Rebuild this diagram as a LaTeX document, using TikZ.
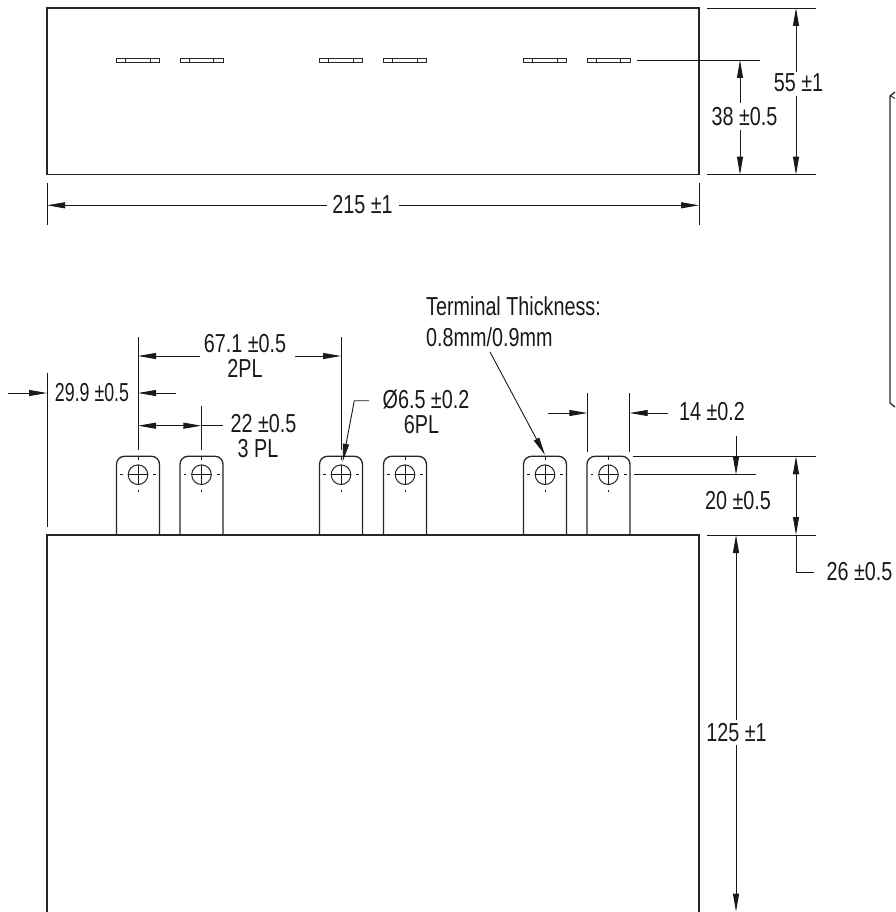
\documentclass[tikz,border=0pt]{standalone}
\usepackage{fontspec}
\usepackage{graphicx}
\setmainfont[FakeStretch=0.76]{Liberation Sans}
\usetikzlibrary{arrows.meta}
\tikzset{
  outline/.style={line width=1.3pt,black!85},
  thin part/.style={line width=1pt,black!85},
  dimline/.style={line width=0.9pt,black!90},
  dimarrow/.style={dimline,-{Triangle[length=18pt,width=6pt]}},
  dimboth/.style={dimline,{Triangle[length=18pt,width=6pt]}-{Triangle[length=18pt,width=6pt]}},
  dimtext/.style={inner sep=0pt,font=\fontsize{26}{28}\selectfont,text=black!90},
  terminal/.pic={
    \draw[outline,rounded corners=8pt] (-21.5,78.7) -- (-21.5,0) -- (21.5,0) -- (21.5,78.7);
    \draw[thin part] (0,18.4) circle[radius=9.8];
    \draw[dimline] (-9.8,18.4) -- (9.8,18.4) (0,8.6) -- (0,28.2);
    \draw[dimline] (0,0) -- (0,3.5) (-18,18.4) -- (-15.3,18.4) (15.3,18.4) -- (18,18.4) (0,33.5) -- (0,36);
  },
  slot/.pic={
    \draw[thin part] (-21.5,-2) rectangle (21.5,2) (-12.2,-2) -- (-12.2,2) (12,-2) -- (12,2);
  }
}
\begin{document}
\begin{tikzpicture}[x=1pt,y=-1pt]
\useasboundingbox (0,0) rectangle (895,912);
% top view
\draw[outline] (47,8) rectangle (699,174.7);
\foreach \c in {138,201.5,341,405,545,608.5} \pic at (\c,61) {slot};
% front view
\draw[outline] (47,912) -- (47,535) -- (699,535) -- (699,912);
\foreach \c in {138,201.5,341,405,545,608.5} \pic at (\c,456.3) {terminal};
% side fragment
\draw[outline] (895,92) -- (890,96) -- (890,403) -- (895,407);
\draw[dimline] (890.6,96) -- (895,98.5);
% extension lines
\draw[dimline] (47,182.7) -- (47,225) (699,182.7) -- (699,225);
\draw[dimline] (706.7,8) -- (816,8) (706.7,174.7) -- (816,174.7);
\draw[dimline] (637,60) -- (759.7,60);
\draw[dimline] (47,373) -- (47,527);
\draw[dimline] (138,337) -- (138,450) (341,337) -- (341,450) (201.3,406) -- (201.3,450);
\draw[dimline] (587.3,393) -- (587.3,452) (629.7,393) -- (629.7,452);
\draw[dimline] (633,456.3) -- (816,456.3) (633.5,474.7) -- (755.5,474.7) (706.7,535) -- (816,535);
% labels
\node[dimtext] (d215) at (362.5,204.5) {215 ±1};
\node[dimtext] (d55) at (798.5,83) {55 ±1};
\node[dimtext] (d38) at (744.5,117) {38 ±0.5};
\node[dimtext] (d67) at (245,344) {67.1 ±0.5};
\node[dimtext] (d67b) at (245,368) {2PL};
\node[dimtext] (d299) at (92,393) {\scalebox{0.9}[1]{29.9 ±0.5}};
\node[dimtext] (d22) at (263.5,424) {22 ±0.5};
\node[dimtext] (d22b) at (258,449) {3 PL};
\node[dimtext] (dhole) at (426,400) {Ø6.5 ±0.2};
\node[dimtext] (dholeb) at (421.5,425) {6PL};
\node[dimtext,anchor=west] (tt1) at (426,306) {Terminal Thickness:};
\node[dimtext,anchor=west] (tt2) at (426,337) {0.8mm/0.9mm};
\node[dimtext] (d14) at (712,412) {14 ±0.2};
\node[dimtext] (d20) at (738,501) {20 ±0.5};
\node[dimtext] (d26) at (859.5,572) {26 ±0.5};
\node[dimtext] (d125) at (736.5,733) {125 ±1};
% dimension arrows
\draw[dimarrow] (326.7,205.3) -- (47,205.3);
\draw[dimarrow] (399,205.3) -- (699,205.3);
\draw[dimarrow] (796,72) -- (796,8);
\draw[dimarrow] (796,96) -- (796,174.7);
\draw[dimarrow] (740,103) -- (740,60);
\draw[dimarrow] (740,130) -- (740,174.7);
\draw[dimarrow] (200,356) -- (138,356);
\draw[dimarrow] (295,356) -- (341,356);
\draw[dimarrow] (8,393) -- (47,393);
\draw[dimarrow] (176,393) -- (138,393);
\draw[dimboth] (138,425.7) -- (201.3,425.7);
\draw[dimline] (201.3,425.7) -- (223,425.7);
\draw[dimarrow] (369,400.7) -- (354.3,400.7) -- (342.7,461.7);
\draw[dimarrow] (490,352) -- (545,455);
\draw[dimarrow] (548,413) -- (587.3,413);
\draw[dimarrow] (668,413) -- (629.7,413);
\draw[dimarrow] (736,436) -- (736,474.7);
\draw[dimarrow] (736,720) -- (736,535);
\draw[dimarrow] (736,745) -- (736,911.7);
\draw[dimarrow] (796,500) -- (796,456.3);
\draw[dimarrow] (796,500) -- (796,535);
\draw[dimline] (796,535) -- (796,572) -- (814,572);
\end{tikzpicture}
\end{document}
